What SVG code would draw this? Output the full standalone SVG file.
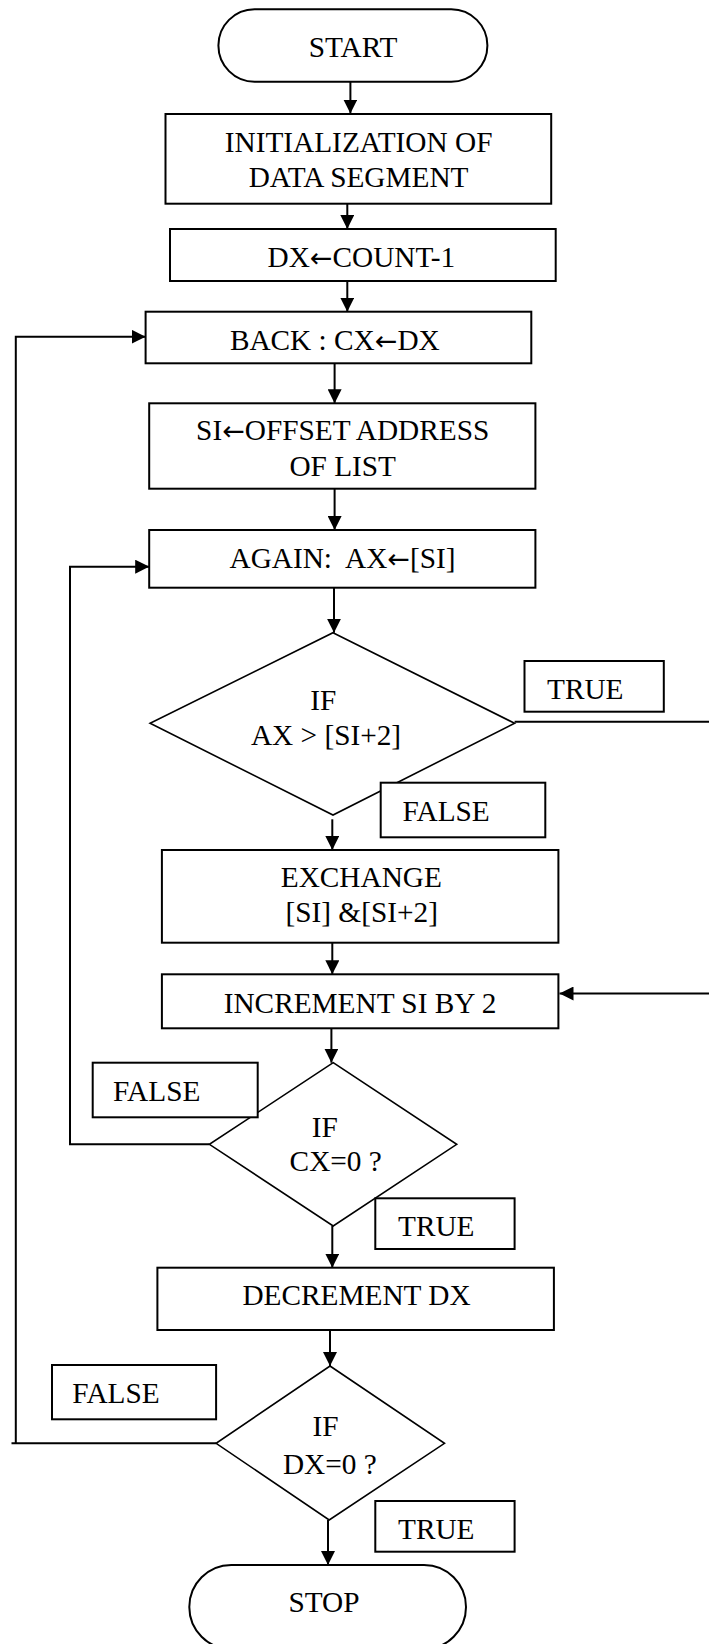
<svg xmlns="http://www.w3.org/2000/svg" width="709" height="1644" viewBox="0 0 709 1644">
<style>
.shape{fill:#fff;stroke:#000;stroke-width:2}
.dia{fill:#fff;stroke:#000;stroke-width:1.6}
.lbl{fill:#fff;stroke:#000;stroke-width:2}
text{font-family:"Liberation Serif","Times New Roman",serif;font-size:29.3px;fill:#000}
.c{text-anchor:middle}
.ar{font-family:"DejaVu Sans",sans-serif;font-size:27px}
.conn{fill:none;stroke:#000;stroke-width:2}
</style>
<defs>
<marker id="ah" markerUnits="userSpaceOnUse" markerWidth="14" markerHeight="14" refX="14" refY="7" orient="auto">
<path d="M0,0 L14,7 L0,14 z" fill="#000"/>
</marker>
</defs>
<rect width="709" height="1644" fill="#fff"/>
<g id="connectors">
<line class="conn" x1="350.4" y1="81.7" x2="350.4" y2="113.5" marker-end="url(#ah)"/>
<line class="conn" x1="347.3" y1="203.7" x2="347.3" y2="229" marker-end="url(#ah)"/>
<line class="conn" x1="347.3" y1="281" x2="347.3" y2="311.7" marker-end="url(#ah)"/>
<line class="conn" x1="334.6" y1="363.3" x2="334.6" y2="403.3" marker-end="url(#ah)"/>
<line class="conn" x1="334.6" y1="488.7" x2="334.6" y2="530" marker-end="url(#ah)"/>
<line class="conn" x1="334" y1="587.7" x2="334" y2="632.7" marker-end="url(#ah)"/>
<line class="conn" x1="332.3" y1="819.3" x2="332.3" y2="850" marker-end="url(#ah)"/>
<line class="conn" x1="332.3" y1="942.7" x2="332.3" y2="974.3" marker-end="url(#ah)"/>
<line class="conn" x1="331.4" y1="1028.3" x2="331.4" y2="1062.7" marker-end="url(#ah)"/>
<line class="conn" x1="332.3" y1="1226" x2="332.3" y2="1267.7" marker-end="url(#ah)"/>
<line class="conn" x1="330" y1="1330" x2="330" y2="1366" marker-end="url(#ah)"/>
<line class="conn" x1="328" y1="1520" x2="328" y2="1565" marker-end="url(#ah)"/>
<path class="conn" d="M514.6,721.7 H714 V993.5 H559.5" marker-end="url(#ah)"/>
<path class="conn" d="M209.4,1144.3 H70 V566.7 H149.2" marker-end="url(#ah)"/>
<path class="conn" d="M216.1,1443.3 H11.5"/>
<path class="conn" d="M15.8,1443.3 V336.7 H145.6" marker-end="url(#ah)"/>
</g>
<g id="start">
<rect class="shape" x="218.4" y="9.3" width="269" height="72.4" rx="36.2"/>
<text class="c" x="353" y="57.3">START</text>
</g>
<g id="init">
<rect class="shape" x="165.5" y="114" width="385.7" height="89.7"/>
<text class="c" x="358.6" y="151.7">INITIALIZATION OF</text>
<text class="c" x="358.6" y="186.7">DATA SEGMENT</text>
</g>
<g id="dx">
<rect class="shape" x="170" y="229" width="385.7" height="52"/>
<text class="c" x="361.3" y="266.7">DX<tspan class="ar">←</tspan>COUNT-1</text>
</g>
<g id="back">
<rect class="shape" x="145.6" y="311.7" width="385.7" height="51.6"/>
<text class="c" x="334.8" y="350">BACK : CX<tspan class="ar">←</tspan>DX</text>
</g>
<g id="si">
<rect class="shape" x="149.2" y="403.3" width="386.2" height="85.4"/>
<text class="c" x="342.7" y="440">SI<tspan class="ar">←</tspan>OFFSET ADDRESS</text>
<text class="c" x="342.7" y="475.7">OF LIST</text>
</g>
<g id="again">
<rect class="shape" x="149.2" y="530" width="386.2" height="57.7"/>
<text class="c" x="342.5" y="568.3" xml:space="preserve">AGAIN:  AX<tspan class="ar">←</tspan>[SI]</text>
</g>
<g id="cmp1">
<polygon class="dia" points="333,632.7 514.6,723.3 333,815 150.1,723.3"/>
<text class="c" x="323.3" y="710">IF</text>
<text class="c" x="326" y="745">AX &gt; [SI+2]</text>
</g>
<g id="exchange">
<rect class="shape" x="161.9" y="850" width="396.5" height="92.7"/>
<text class="c" x="361.3" y="886.7">EXCHANGE</text>
<text class="c" x="361.7" y="921.7">[SI] &amp;[SI+2]</text>
</g>
<g id="increment">
<rect class="shape" x="161.9" y="974.3" width="396.5" height="54"/>
<text class="c" x="360" y="1013.3">INCREMENT SI BY 2</text>
</g>
<g id="cmp2">
<polygon class="dia" points="333.2,1062.7 456.7,1144.3 333.2,1226 209.4,1144.3"/>
<text class="c" x="324.7" y="1136.7">IF</text>
<text class="c" x="335.7" y="1170.7">CX=0 ?</text>
</g>
<g id="decrement">
<rect class="shape" x="157.4" y="1267.7" width="396.5" height="62.3"/>
<text class="c" x="356.5" y="1305">DECREMENT DX</text>
</g>
<g id="cmp3">
<polygon class="dia" points="330,1366 444.5,1443.3 329.2,1520 216.1,1443.3"/>
<text class="c" x="325.6" y="1436">IF</text>
<text class="c" x="329.8" y="1474.3">DX=0 ?</text>
</g>
<g id="stop">
<rect class="shape" x="189.3" y="1565" width="276.7" height="84" rx="42"/>
<text class="c" x="324" y="1611.7">STOP</text>
</g>
<g id="label-true1">
<rect class="lbl" x="524.5" y="661" width="139.3" height="50.7"/>
<text x="547" y="699">TRUE</text>
</g>
<g id="label-false1">
<rect class="lbl" x="380.7" y="782.7" width="164.6" height="54.6"/>
<text x="402.4" y="821">FALSE</text>
</g>
<g id="label-false2">
<rect class="lbl" x="92.7" y="1062.7" width="165" height="54.6"/>
<text x="113" y="1101">FALSE</text>
</g>
<g id="label-true2">
<rect class="lbl" x="375.3" y="1198.3" width="139.3" height="50.7"/>
<text x="398" y="1236">TRUE</text>
</g>
<g id="label-false3">
<rect class="lbl" x="52" y="1365" width="164.1" height="54.3"/>
<text x="72.3" y="1402.7">FALSE</text>
</g>
<g id="label-true3">
<rect class="lbl" x="375.3" y="1501" width="139.3" height="50.7"/>
<text x="398" y="1539.3">TRUE</text>
</g>
</svg>
